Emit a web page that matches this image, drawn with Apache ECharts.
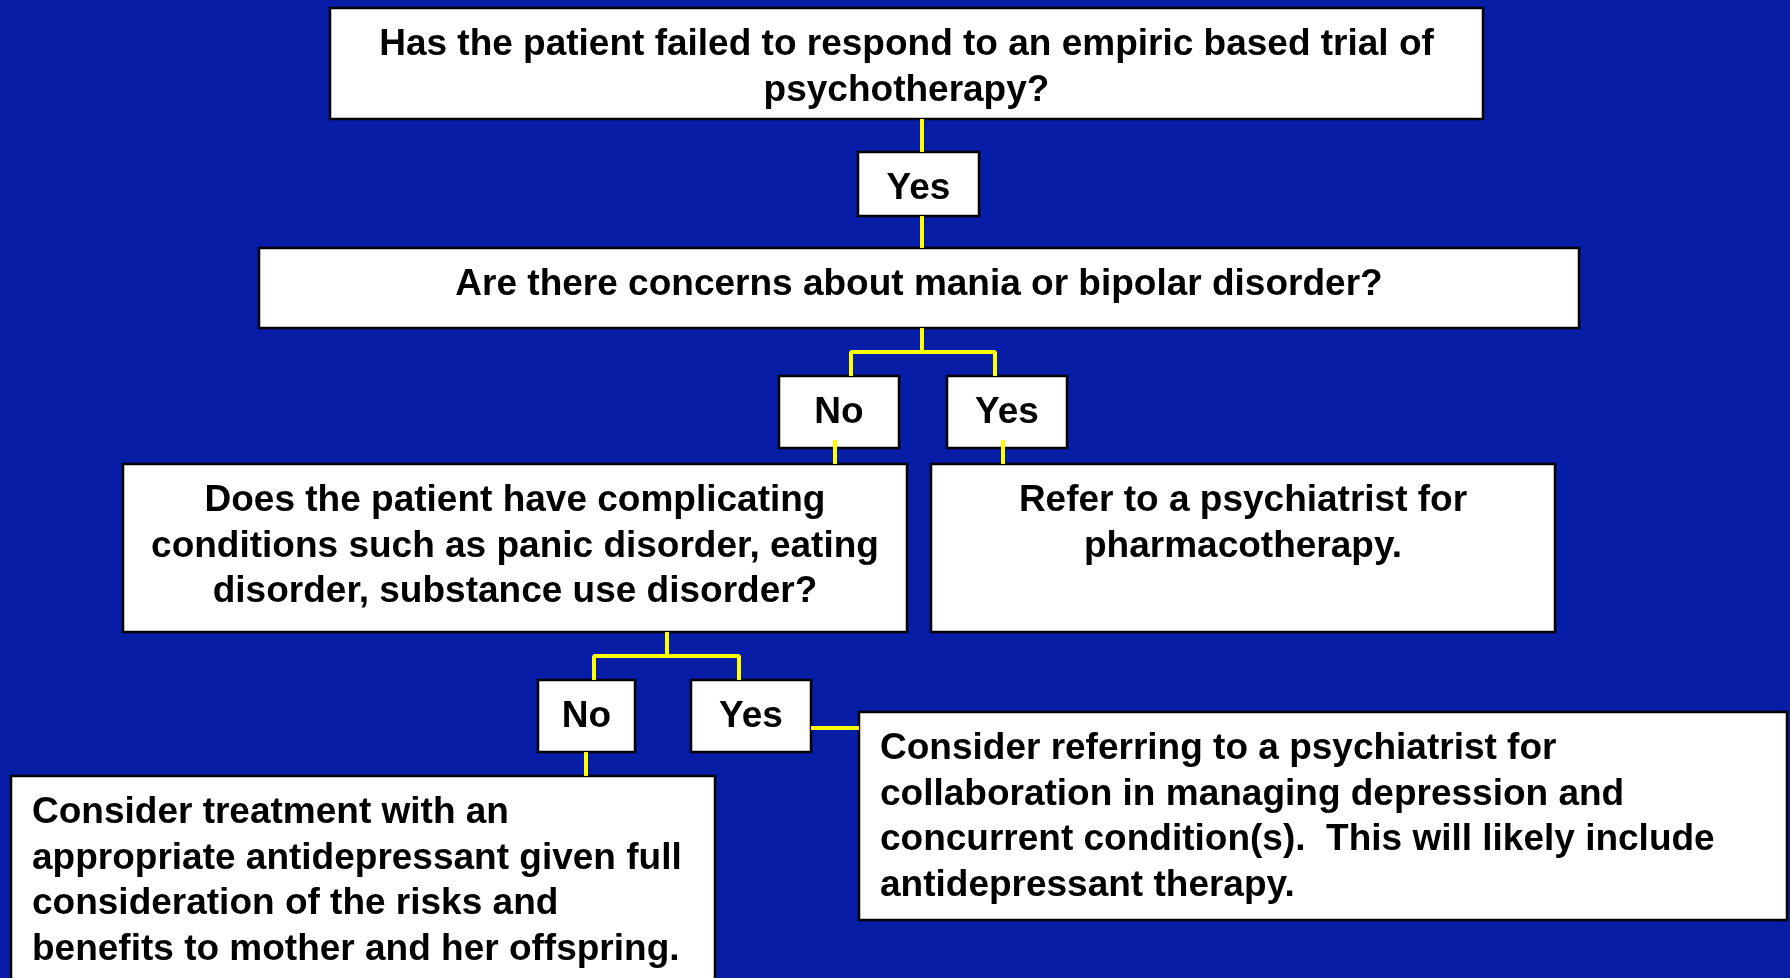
<!DOCTYPE html>
<html>
<head>
<meta charset="utf-8">
<title>Flowchart</title>
<script src="https://cdn.jsdelivr.net/npm/echarts@6/dist/echarts.min.js"></script>
<style>
  html, body { margin: 0; padding: 0; background: #071da6; }
  #chart { width: 1790px; height: 978px; }
</style>
</head>
<body>
<div id="chart"></div>
<script>
// box extents in diagram units: [left, top, right, bottom]
const nodeBoxes = [
  [330, 8, 1483, 119],
  [858, 152, 979, 216],
  [259, 248, 1579, 328],
  [779, 376, 899, 448],
  [947, 376, 1067, 448],
  [123, 464, 907, 632],
  [931, 464, 1555, 632],
  [538, 680, 635, 752],
  [691, 680, 811, 752],
  [11, 776, 715, 1000],
  [859, 712, 1787, 920]
];
// text of each box, one entry per line
const nodeLines = [
  ['Has the patient failed to respond to an empiric based trial of', 'psychotherapy?'],
  ['Yes'],
  ['Are there concerns about mania or bipolar disorder?'],
  ['No'],
  ['Yes'],
  ['Does the patient have complicating', 'conditions such as panic disorder, eating', 'disorder, substance use disorder?'],
  ['Refer to a psychiatrist for', 'pharmacotherapy.'],
  ['No'],
  ['Yes'],
  ['Consider treatment with an', 'appropriate antidepressant given full', 'consideration of the risks and', 'benefits to mother and her offspring.'],
  ['Consider referring to a psychiatrist for', 'collaboration in managing depression and', 'concurrent condition(s).  This will likely include', 'antidepressant therapy.']
];
const nodeAlign = ['center', 'center', 'center', 'center', 'center', 'center', 'center', 'center', 'center', 'left', 'left'];
// connector polylines
const links = [
  [[922, 119], [922, 152]],
  [[922, 216], [922, 248]],
  [[922, 328], [922, 352]],
  [[851, 376], [851, 352], [995, 352], [995, 376]],
  [[835, 440], [835, 464]],
  [[1003, 440], [1003, 464]],
  [[667, 632], [667, 656]],
  [[594, 680], [594, 656], [739, 656], [739, 680]],
  [[586, 752], [586, 776]],
  [[811, 728], [859, 728]]
];

const chart = echarts.init(document.getElementById('chart'));

const linkSeries = links.map(pts => ({
  type: 'line',
  data: pts,
  symbol: 'none',
  z: 5,
  lineStyle: { color: '#ffff00', width: 4 },
  silent: true
}));

chart.setOption({
  animation: false,
  backgroundColor: '#071da6',
  grid: { left: 0, right: 0, top: 0, bottom: 0 },
  xAxis: { type: 'value', min: 0, max: 1790, show: false },
  yAxis: { type: 'value', min: 0, max: 978, inverse: true, show: false },
  series: [
    {
      type: 'custom',
      z: 3,
      encode: { x: [0, 2], y: [1, 3] },
      data: nodeBoxes.map((b, i) => [b[0], b[1], b[2], b[3], i]),
      renderItem: function (params, api) {
        const p0 = api.coord([api.value(0), api.value(1)]);
        const p1 = api.coord([api.value(2), api.value(3)]);
        const i = api.value(4);
        const align = nodeAlign[i];
        const tx = align === 'left' ? p0[0] + 21 : (p0[0] + p1[0]) / 2;
        const children = [{
          type: 'rect',
          shape: { x: p0[0], y: p0[1], width: p1[0] - p0[0], height: p1[1] - p0[1] },
          style: { fill: '#ffffff', stroke: '#000000', lineWidth: 2.5 }
        }];
        nodeLines[i].forEach((t, k) => {
          children.push({
            type: 'text',
            style: {
              text: t,
              x: tx,
              y: p0[1] + 37 + k * 45.5,
              align: align,
              verticalAlign: 'middle',
              fill: '#000000',
              font: 'bold 37px "Liberation Sans", Arial, sans-serif'
            }
          });
        });
        return { type: 'group', children: children };
      }
    }
  ].concat(linkSeries)
});
</script>
</body>
</html>
